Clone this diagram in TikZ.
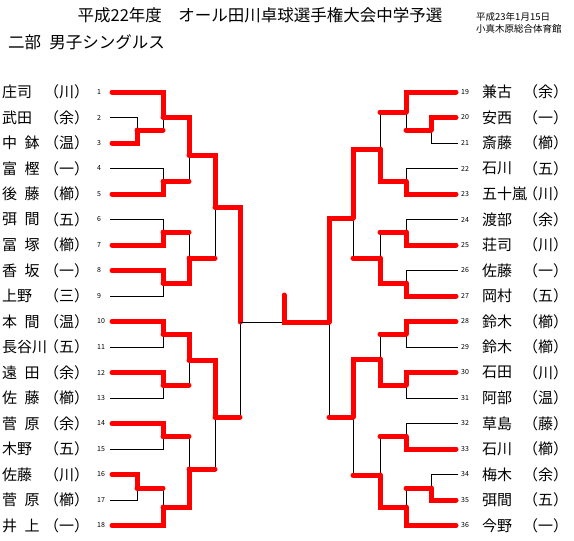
\documentclass[tikz,border=0pt]{standalone}
\usepackage{fontspec}
\setmainfont{Noto Sans CJK JP}
\newcommand{\jsp}{\hspace{.5em}}
\tikzset{
  won/.style={red, line width=5pt, line cap=round},
  lost/.style={black, line width=0.8pt},
  pname/.style={anchor=west, inner sep=0pt, font=\fontsize{15}{16}\selectfont},
  pnum/.style={anchor=west, inner sep=0pt, font=\fontsize{7}{8}\selectfont},
  head/.style={inner sep=0pt, font=\fontsize{16.5}{18}\selectfont},
  place/.style={anchor=west, inner sep=0pt, font=\fontsize{9.5}{11}\selectfont},
}
\begin{document}
\begin{tikzpicture}[x=1pt, y=-1pt]
\useasboundingbox (0,0) rectangle (574,541);
% heading
\node[head] (title) at (260,15) {平成22年度　オール田川卓球選手権大会中学予選};
\node[place] (date) at (476,17) {平成23年1月15日};
\node[place] (hall) at (476,29) {小真木原総合体育館};
\node[head, anchor=west] (event) at (8,42) {二部\jsp{}男子シングルス};

% left players
\node[pname] (nm1) at (2,92) {庄司}; \node[pname] (tm1) at (44,92) {（川）}; \node[pnum] (n1) at (97,92) {1}; \coordinate (p1) at (112,92);
\node[pname] (nm2) at (2,117.5) {武田}; \node[pname] (tm2) at (44,117.5) {（余）}; \node[pnum] (n2) at (97,117.5) {2}; \coordinate (p2) at (110,117.5);
\node[pname] (nm3) at (2,143) {中\jsp{}鉢}; \node[pname] (tm3) at (44,143) {（温）}; \node[pnum] (n3) at (97,143) {3}; \coordinate (p3) at (112,143);
\node[pname] (nm4) at (2,168.5) {富\jsp{}樫}; \node[pname] (tm4) at (44,168.5) {（一）}; \node[pnum] (n4) at (97,168.5) {4}; \coordinate (p4) at (110,168.5);
\node[pname] (nm5) at (2,194) {後\jsp{}藤}; \node[pname] (tm5) at (44,194) {（櫛）}; \node[pnum] (n5) at (97,194) {5}; \coordinate (p5) at (112,194);
\node[pname] (nm6) at (2,219.5) {弭\jsp{}間}; \node[pname] (tm6) at (44,219.5) {（五）}; \node[pnum] (n6) at (97,219.5) {6}; \coordinate (p6) at (110,219.5);
\node[pname] (nm7) at (2,245) {冨\jsp{}塚}; \node[pname] (tm7) at (44,245) {（櫛）}; \node[pnum] (n7) at (97,245) {7}; \coordinate (p7) at (112,245);
\node[pname] (nm8) at (2,270.5) {香\jsp{}坂}; \node[pname] (tm8) at (44,270.5) {（一）}; \node[pnum] (n8) at (97,270.5) {8}; \coordinate (p8) at (112,270.5);
\node[pname] (nm9) at (2,296) {上野}; \node[pname] (tm9) at (44,296) {（三）}; \node[pnum] (n9) at (97,296) {9}; \coordinate (p9) at (110,296);
\node[pname] (nm10) at (2,321.5) {本\jsp{}間}; \node[pname] (tm10) at (44,321.5) {（温）}; \node[pnum] (n10) at (97,321.5) {10}; \coordinate (p10) at (112,321.5);
\node[pname] (nm11) at (2,347) {長谷川}; \node[pname] (tm11) at (44,347) {（五）}; \node[pnum] (n11) at (97,347) {11}; \coordinate (p11) at (110,347);
\node[pname] (nm12) at (2,372.5) {遠\jsp{}田}; \node[pname] (tm12) at (44,372.5) {（余）}; \node[pnum] (n12) at (97,372.5) {12}; \coordinate (p12) at (112,372.5);
\node[pname] (nm13) at (2,398) {佐\jsp{}藤}; \node[pname] (tm13) at (44,398) {（櫛）}; \node[pnum] (n13) at (97,398) {13}; \coordinate (p13) at (110,398);
\node[pname] (nm14) at (2,423.5) {菅\jsp{}原}; \node[pname] (tm14) at (44,423.5) {（余）}; \node[pnum] (n14) at (97,423.5) {14}; \coordinate (p14) at (112,423.5);
\node[pname] (nm15) at (2,449) {木野}; \node[pname] (tm15) at (44,449) {（五）}; \node[pnum] (n15) at (97,449) {15}; \coordinate (p15) at (110,449);
\node[pname] (nm16) at (2,474.5) {佐藤}; \node[pname] (tm16) at (44,474.5) {（川）}; \node[pnum] (n16) at (97,474.5) {16}; \coordinate (p16) at (112,474.5);
\node[pname] (nm17) at (2,500) {菅\jsp{}原}; \node[pname] (tm17) at (44,500) {（櫛）}; \node[pnum] (n17) at (97,500) {17}; \coordinate (p17) at (110,500);
\node[pname] (nm18) at (2,525.5) {井\jsp{}上}; \node[pname] (tm18) at (44,525.5) {（一）}; \node[pnum] (n18) at (97,525.5) {18}; \coordinate (p18) at (112,525.5);

% right players
\node[pnum] (n19) at (461,92) {19}; \node[pname] (nm19) at (482,92) {兼古}; \node[pname] (tm19) at (523,92) {（余）}; \coordinate (p19) at (456,92);
\node[pnum] (n20) at (461,117.5) {20}; \node[pname] (nm20) at (482,117.5) {安西}; \node[pname] (tm20) at (523,117.5) {（一）}; \coordinate (p20) at (456,117.5);
\node[pnum] (n21) at (461,143) {21}; \node[pname] (nm21) at (482,143) {斎藤}; \node[pname] (tm21) at (523,143) {（櫛）}; \coordinate (p21) at (458,143);
\node[pnum] (n22) at (461,168.5) {22}; \node[pname] (nm22) at (482,168.5) {石川}; \node[pname] (tm22) at (523,168.5) {（五）}; \coordinate (p22) at (458,168.5);
\node[pnum] (n23) at (461,194) {23}; \node[pname] (nm23) at (482,194) {五十嵐}; \node[pname] (tm23) at (523,194) {（川）}; \coordinate (p23) at (456,194);
\node[pnum] (n24) at (461,219.5) {24}; \node[pname] (nm24) at (482,219.5) {渡部}; \node[pname] (tm24) at (523,219.5) {（余）}; \coordinate (p24) at (458,219.5);
\node[pnum] (n25) at (461,245) {25}; \node[pname] (nm25) at (482,245) {荘司}; \node[pname] (tm25) at (523,245) {（川）}; \coordinate (p25) at (456,245);
\node[pnum] (n26) at (461,270.5) {26}; \node[pname] (nm26) at (482,270.5) {佐藤}; \node[pname] (tm26) at (523,270.5) {（一）}; \coordinate (p26) at (458,270.5);
\node[pnum] (n27) at (461,296) {27}; \node[pname] (nm27) at (482,296) {岡村}; \node[pname] (tm27) at (523,296) {（五）}; \coordinate (p27) at (456,296);
\node[pnum] (n28) at (461,321.5) {28}; \node[pname] (nm28) at (482,321.5) {鈴木}; \node[pname] (tm28) at (523,321.5) {（櫛）}; \coordinate (p28) at (456,321.5);
\node[pnum] (n29) at (461,347) {29}; \node[pname] (nm29) at (482,347) {鈴木}; \node[pname] (tm29) at (523,347) {（櫛）}; \coordinate (p29) at (458,347);
\node[pnum] (n30) at (461,372.5) {30}; \node[pname] (nm30) at (482,372.5) {石田}; \node[pname] (tm30) at (523,372.5) {（川）}; \coordinate (p30) at (456,372.5);
\node[pnum] (n31) at (461,398) {31}; \node[pname] (nm31) at (482,398) {阿部}; \node[pname] (tm31) at (523,398) {（温）}; \coordinate (p31) at (458,398);
\node[pnum] (n32) at (461,423.5) {32}; \node[pname] (nm32) at (482,423.5) {草島}; \node[pname] (tm32) at (523,423.5) {（藤）}; \coordinate (p32) at (458,423.5);
\node[pnum] (n33) at (461,449) {33}; \node[pname] (nm33) at (482,449) {石川}; \node[pname] (tm33) at (523,449) {（櫛）}; \coordinate (p33) at (456,449);
\node[pnum] (n34) at (461,474.5) {34}; \node[pname] (nm34) at (482,474.5) {梅木}; \node[pname] (tm34) at (523,474.5) {（余）}; \coordinate (p34) at (458,474.5);
\node[pnum] (n35) at (461,500) {35}; \node[pname] (nm35) at (482,500) {弭間}; \node[pname] (tm35) at (523,500) {（五）}; \coordinate (p35) at (456,500);
\node[pnum] (n36) at (461,525.5) {36}; \node[pname] (nm36) at (482,525.5) {今野}; \node[pname] (tm36) at (523,525.5) {（一）}; \coordinate (p36) at (456,525.5);

% match junctions, left
\coordinate (m1) at (137,130);   \coordinate (m2) at (163,117);   \coordinate (m3) at (163,181.5);
\coordinate (m4) at (189,155);   \coordinate (m5) at (163,232);   \coordinate (m6) at (163,283);
\coordinate (m7) at (189,258);   \coordinate (m8) at (215,207);   \coordinate (m9) at (163,334);
\coordinate (m10) at (163,385);  \coordinate (m11) at (189,360);  \coordinate (m12) at (163,436.5);
\coordinate (m13) at (137,488);  \coordinate (m14) at (163,507);  \coordinate (m15) at (189,469);
\coordinate (m16) at (215,417);  \coordinate (m17) at (240,322);
% match junctions, right
\coordinate (m18) at (431,130);  \coordinate (m19) at (406,112);  \coordinate (m20) at (406,181.5);
\coordinate (m21) at (380,149);  \coordinate (m22) at (406,232);  \coordinate (m23) at (406,283);
\coordinate (m24) at (380,258);  \coordinate (m25) at (353,218);  \coordinate (m26) at (406,334);
\coordinate (m27) at (406,385);  \coordinate (m28) at (380,359);  \coordinate (m29) at (406,436.5);
\coordinate (m30) at (431,488);  \coordinate (m31) at (406,507);  \coordinate (m32) at (380,475);
\coordinate (m33) at (353,417);  \coordinate (m34) at (329,322);
% final
\coordinate (fin) at (284,322);  \coordinate (champ) at (284,295);

% left block
\draw[lost] (p2) -| (m1); \draw[won] (p3) -| (m1);
\draw[lost] (m1 -| m2) -- (m2); \draw[won] (m1) -- (m1 -| m2); \draw[won] (p1) -| (m2);
\draw[lost] (p4) -| (m3); \draw[won] (p5) -| (m3);
\draw[lost] (m3 -| m4) -- (m4); \draw[won] (m3) -- (m3 -| m4); \draw[won] (m2) -| (m4);
\draw[lost] (p6) -| (m5); \draw[won] (p7) -| (m5);
\draw[lost] (p9) -| (m6); \draw[won] (p8) -| (m6);
\draw[lost] (m5 -| m7) -- (m7); \draw[won] (m5) -- (m5 -| m7); \draw[won] (m6) -| (m7);
\draw[lost] (m7 -| m8) -- (m8); \draw[won] (m7) -- (m7 -| m8); \draw[won] (m4) -| (m8);
\draw[lost] (p11) -| (m9); \draw[won] (p10) -| (m9);
\draw[lost] (p13) -| (m10); \draw[won] (p12) -| (m10);
\draw[lost] (m10 -| m11) -- (m11); \draw[won] (m10) -- (m10 -| m11); \draw[won] (m9) -| (m11);
\draw[lost] (p15) -| (m12); \draw[won] (p14) -| (m12);
\draw[lost] (p17) -| (m13); \draw[won] (p16) -| (m13);
\draw[lost] (m13 -| m14) -- (m14); \draw[won] (m13) -- (m13 -| m14); \draw[won] (p18) -| (m14);
\draw[lost] (m12 -| m15) -- (m15); \draw[won] (m12) -- (m12 -| m15); \draw[won] (m14) -| (m15);
\draw[lost] (m15 -| m16) -- (m16); \draw[won] (m15) -- (m15 -| m16); \draw[won] (m11) -| (m16);
\draw[lost] (m16 -| m17) -- (m17); \draw[won] (m16) -- (m16 -| m17); \draw[won] (m8) -| (m17);

% right block
\draw[lost] (p21) -| (m18); \draw[won] (p20) -| (m18);
\draw[lost] (m18 -| m19) -- (m19); \draw[won] (m18) -- (m18 -| m19); \draw[won] (p19) -| (m19);
\draw[lost] (p22) -| (m20); \draw[won] (p23) -| (m20);
\draw[lost] (m19 -| m21) -- (m21); \draw[won] (m19) -- (m19 -| m21); \draw[won] (m20) -| (m21);
\draw[lost] (p24) -| (m22); \draw[won] (p25) -| (m22);
\draw[lost] (p26) -| (m23); \draw[won] (p27) -| (m23);
\draw[lost] (m22 -| m24) -- (m24); \draw[won] (m22) -- (m22 -| m24); \draw[won] (m23) -| (m24);
\draw[lost] (m24 -| m25) -- (m25); \draw[won] (m24) -- (m24 -| m25); \draw[won] (m21) -| (m25);
\draw[lost] (p29) -| (m26); \draw[won] (p28) -| (m26);
\draw[lost] (p31) -| (m27); \draw[won] (p30) -| (m27);
\draw[lost] (m26 -| m28) -- (m28); \draw[won] (m26) -- (m26 -| m28); \draw[won] (m27) -| (m28);
\draw[lost] (p32) -| (m29); \draw[won] (p33) -| (m29);
\draw[lost] (p34) -| (m30); \draw[won] (p35) -| (m30);
\draw[lost] (m30 -| m31) -- (m31); \draw[won] (m30) -- (m30 -| m31); \draw[won] (p36) -| (m31);
\draw[lost] (m29 -| m32) -- (m32); \draw[won] (m29) -- (m29 -| m32); \draw[won] (m31) -| (m32);
\draw[lost] (m32 -| m33) -- (m33); \draw[won] (m32) -- (m32 -| m33); \draw[won] (m28) -| (m33);
\draw[lost] (m33 -| m34) -- (m34); \draw[won] (m33) -- (m33 -| m34); \draw[won] (m25) -| (m34);

% final
\draw[lost] (m17) -- (fin);
\draw[won] (m34) -- (fin) -- (champ);
\end{tikzpicture}
\end{document}
